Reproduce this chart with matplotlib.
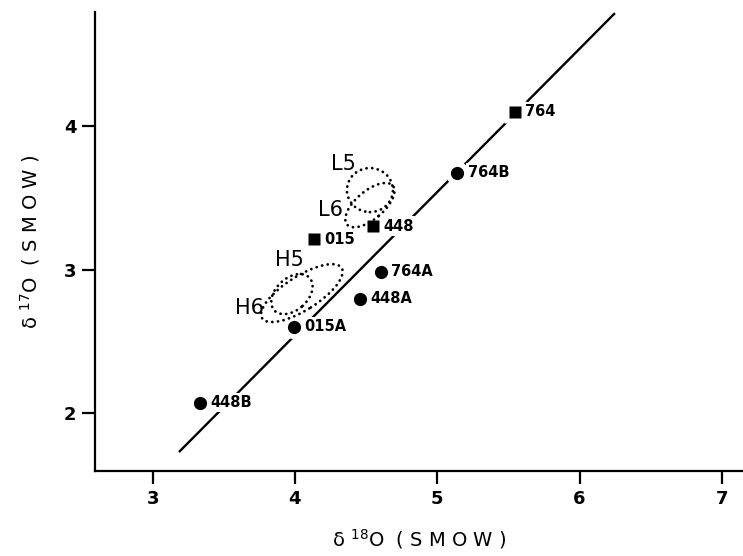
import matplotlib
matplotlib.use("Agg")
import matplotlib.pyplot as plt
from matplotlib.patches import Ellipse

# ---- data ----
sq_names = ["764", "448", "015"]
sq_x = [5.544, 4.550, 4.134]
sq_y = [4.100, 3.303, 3.210]

ci_names = ["764B", "764A", "448A", "015A", "448B"]
ci_x = [5.141, 4.602, 4.457, 3.993, 3.332]
ci_y = [3.675, 2.985, 2.797, 2.601, 2.072]

line_x = [3.185, 6.249]
line_y = [1.728, 4.787]

ell_names = ["L5", "L6", "H5", "H6"]
ell_cx = [4.527, 4.527, 3.979, 4.049]
ell_cy = [3.554, 3.449, 2.829, 2.836]
ell_w = [0.323, 0.42, 0.336, 0.66]
ell_h = [0.307, 0.196, 0.223, 0.237]
ell_ang = [0, 40, 42, 32]
ell_lab_x = [4.344, 4.247, 3.959, 3.684]
ell_lab_y = [3.735, 3.415, 3.066, 2.732]

xticks = [3, 4, 5, 6, 7]
yticks = [2, 3, 4]

plt.rcParams['font.family'] = ['DejaVu Sans']
fig = plt.figure(figsize=(7.43, 5.56), dpi=100)
ax = fig.add_axes([95/743, 85/556, 648/743, 459/556])
ax.set_xlim(2.595, 7.149)
ax.set_ylim(1.596, 4.795)

ax.plot(line_x, line_y, color='black', lw=1.7, zorder=1, solid_capstyle='butt')

# white halos to break the line around markers
ax.plot(sq_x, sq_y, 's', ms=15.5, color='white', mec='none', zorder=2)
ax.plot(ci_x, ci_y, 'o', ms=17, color='white', mec='none', zorder=2)

ax.plot(sq_x, sq_y, 's', ms=9, color='black', mec='none', zorder=4)
ax.plot(ci_x, ci_y, 'o', ms=9.5, color='black', mec='none', zorder=4)

for n, x, y in list(zip(sq_names, sq_x, sq_y)) + list(zip(ci_names, ci_x, ci_y)):
    ax.annotate(n, (x, y), xytext=(7.5, 0), textcoords='offset points',
                ha='left', va='center', fontsize=10.5, fontweight='bold',
                zorder=3,
                bbox=dict(boxstyle='square,pad=0.15', fc='white', ec='none'))

for n, cx, cy, w, h, a, lx, ly in zip(ell_names, ell_cx, ell_cy, ell_w, ell_h,
                                       ell_ang, ell_lab_x, ell_lab_y):
    e = Ellipse((cx, cy), w, h, angle=a, fill=False, ec='black', lw=2.0,
                ls=(0, (0.05, 2.0)), zorder=5)
    e.set_capstyle('round')
    ax.add_patch(e)
    ax.text(lx, ly, n, ha='center', va='center', fontsize=15, zorder=6)

for s in ['top', 'right']:
    ax.spines[s].set_visible(False)
for s in ['left', 'bottom']:
    ax.spines[s].set_linewidth(1.6)

ax.set_xticks(xticks)
ax.set_yticks(yticks)
ax.tick_params(direction='out', length=9.5, width=1.6, labelsize=13, pad=4)
for lab in ax.get_xticklabels() + ax.get_yticklabels():
    lab.set_fontweight('bold')

ax.set_xlabel("δ $^{18}$O  ( S M O W )", fontsize=14, labelpad=14)
ax.set_ylabel("δ $^{17}$O  ( S M O W )", fontsize=14, labelpad=16)

fig.savefig("out.png", dpi=100)
